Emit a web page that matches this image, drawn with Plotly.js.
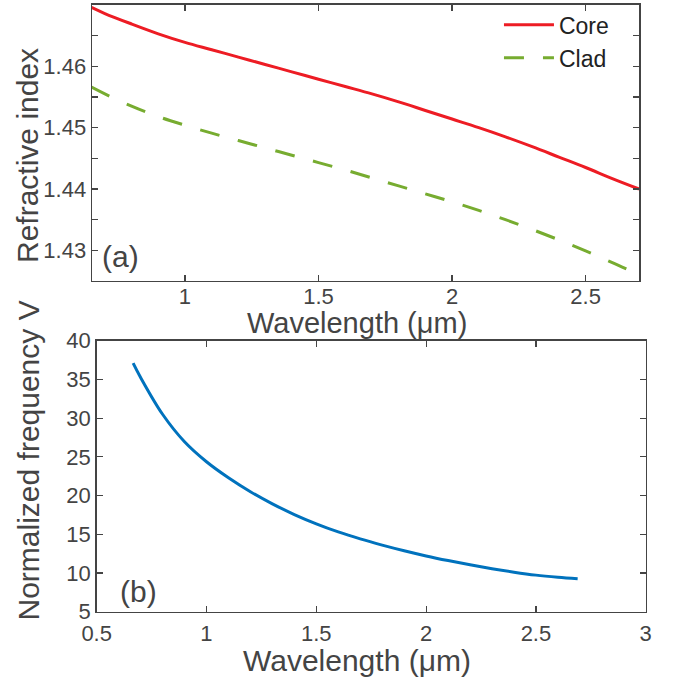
<!DOCTYPE html>
<html><head><meta charset="utf-8">
<script src="https://cdn.plot.ly/plotly-3.0.1.min.js"></script>
<style>html,body{margin:0;padding:0;background:#fff}#chart{width:693px;height:681px}</style>
</head><body><div id="chart"></div><script>
// Panel (a): refractive index vs wavelength (µm)
const wavelength = [0.65, 0.7, 0.8, 0.9, 1.0, 1.1, 1.2, 1.3, 1.4, 1.5, 1.6, 1.7, 1.8, 1.9, 2.0, 2.1, 2.2, 2.3, 2.4, 2.5, 2.6, 2.7];
const coreIndex = [1.4696, 1.4686, 1.4669, 1.4653, 1.4639, 1.4627, 1.4615, 1.4603, 1.4591, 1.4579, 1.4567, 1.4555, 1.4542, 1.4528, 1.4514, 1.4500, 1.4485, 1.4469, 1.4452, 1.4435, 1.4417, 1.4400];
const cladIndex = [1.4566, 1.4555, 1.4535, 1.4518, 1.4504, 1.4491, 1.4479, 1.4467, 1.4455, 1.4443, 1.4431, 1.4418, 1.4405, 1.4392, 1.4379, 1.4365, 1.4350, 1.4334, 1.4317, 1.4299, 1.4280, 1.4260];
// Panel (b): normalized frequency V vs wavelength (µm)
const wavelengthV = [0.666, 0.7, 0.8, 0.9, 1.0, 1.1, 1.2, 1.3, 1.4, 1.5, 1.6, 1.7, 1.8, 1.9, 2.0, 2.1, 2.2, 2.3, 2.4, 2.5, 2.6, 2.69];
const normFreqV = [37.1, 35.25, 30.5, 26.95, 24.37, 22.3, 20.5, 18.93, 17.55, 16.35, 15.3, 14.4, 13.6, 12.87, 12.2, 11.6, 11.05, 10.55, 10.1, 9.72, 9.45, 9.26];
// Tick labels
const xTickValsA = [1, 1.5, 2, 2.5];
const xTickTextA = ['1', '1.5', '2', '2.5'];
const yTickValsA = [1.43, 1.435, 1.44, 1.445, 1.45, 1.455, 1.46, 1.465];
const yTickTextA = ['1.43', '', '1.44', '', '1.45', '', '1.46', ''];
const xTickValsB = [0.5, 1, 1.5, 2, 2.5, 3];
const xTickTextB = ['0.5', '1', '1.5', '2', '2.5', '3'];
const yTickValsB = [5, 10, 15, 20, 25, 30, 35, 40];
const yTickTextB = ['5', '10', '15', '20', '25', '30', '35', '40'];
const seriesNames = ['Core', 'Clad'];
const xTitle = 'Wavelength (μm)';
const yTitleA = 'Refractive index';
const yTitleB = 'Normalized frequency V';

const FONT = 'Liberation Sans, Arial, Helvetica, sans-serif';
const TXT = '#444444';
const axisCommon = {
  showline: true, linecolor: '#444444', linewidth: 1.5, mirror: 'ticks',
  ticks: 'inside', ticklen: 6, tickwidth: 1.2, tickcolor: '#444444',
  showgrid: false, zeroline: false,
  tickfont: {family: FONT, size: 22, color: TXT}
};
const titleFont = {family: FONT, size: 30, color: TXT};

const traces = [
  {x: wavelength, y: coreIndex, name: seriesNames[0], type: 'scatter', mode: 'lines',
   line: {color: '#ED1C24', width: 3, shape: 'spline', smoothing: 1}, xaxis: 'x', yaxis: 'y'},
  {x: wavelength, y: cladIndex, name: seriesNames[1], type: 'scatter', mode: 'lines',
   line: {color: '#77AC30', width: 3, dash: '20px,19px', shape: 'spline', smoothing: 1}, xaxis: 'x', yaxis: 'y'},
  {x: wavelengthV, y: normFreqV, name: 'V', type: 'scatter', mode: 'lines', showlegend: false,
   line: {color: '#0072BD', width: 3, shape: 'spline', smoothing: 1}, xaxis: 'x2', yaxis: 'y2'}
];

function titleAnn(text, x, y, angle, size) {
  return {text: text, xref: 'paper', yref: 'paper', x: x, y: y, xanchor: 'center', yanchor: 'middle',
          textangle: angle, showarrow: false, font: Object.assign({}, titleFont, size ? {size: size} : {})};
}

const layout = {
  width: 693, height: 681,
  margin: {l: 0, r: 0, t: 0, b: 0},
  paper_bgcolor: '#ffffff', plot_bgcolor: '#ffffff',
  font: {family: FONT, color: TXT},
  showlegend: true,
  legend: {x: 0.72, y: 0.995, xanchor: 'left', yanchor: 'top', bgcolor: 'rgba(0,0,0,0)',
    font: {family: FONT, size: 23, color: '#222222'}, itemwidth: 50, tracegroupgap: 0},
  xaxis: Object.assign({}, axisCommon, {domain: [0.1328, 0.9225], anchor: 'y', range: [0.652, 2.701],
    tickmode: 'array', tickvals: xTickValsA, ticktext: xTickTextA, ticklabelstandoff: -5}),
  yaxis: Object.assign({}, axisCommon, {domain: [0.5874, 0.9927], anchor: 'x', range: [1.425, 1.47],
    tickmode: 'array', tickvals: yTickValsA, ticktext: yTickTextA}),
  xaxis2: Object.assign({}, axisCommon, {domain: [0.1395, 0.9318], anchor: 'y2', range: [0.5, 3],
    tickmode: 'array', tickvals: xTickValsB, ticktext: xTickTextB, ticklabelstandoff: 1}),
  yaxis2: Object.assign({}, axisCommon, {domain: [0.1018, 0.4997], anchor: 'x2', range: [5, 40],
    tickmode: 'array', tickvals: yTickValsB, ticktext: yTickTextB}),
  annotations: [
    titleAnn(xTitle, 0.5152, 0.5257, 0, 29),
    titleAnn(xTitle, 0.5152, 0.0308, 0),
    titleAnn(yTitleA, 0.0404, 0.7724, -90),
    titleAnn(yTitleB, 0.0404, 0.3238, -90),
    {text: '(a)', xref: 'x domain', yref: 'y domain', x: 0.014, y: 0.088, xanchor: 'left', yanchor: 'middle',
     showarrow: false, font: {family: FONT, size: 30, color: TXT}},
    {text: '(b)', xref: 'x2 domain', yref: 'y2 domain', x: 0.039, y: 0.073, xanchor: 'left', yanchor: 'middle',
     showarrow: false, font: {family: FONT, size: 30, color: TXT}}
  ]
};

Plotly.newPlot('chart', traces, layout, {displayModeBar: false, staticPlot: true});
</script></body></html>
